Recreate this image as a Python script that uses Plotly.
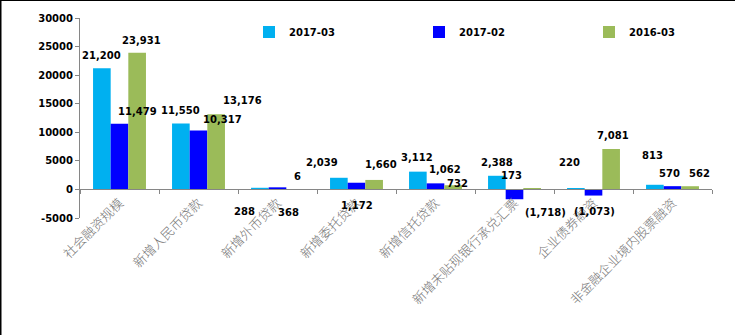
import plotly.graph_objects as go

categories = ["社会融资规模", "新增人民币贷款", "新增外币贷款", "新增委托贷款",
              "新增信托贷款", "新增未贴现银行承兑汇票", "企业债券融资", "非金融企业境内股票融资"]
series_names = ["2017-03", "2017-02", "2016-03"]
v_2017_03 = [21200, 11550, 288, 2039, 3112, 2388, 220, 813]
v_2017_02 = [11479, 10317, 368, 1172, 1062, -1718, -1073, 570]
v_2016_03 = [23931, 13176, 6, 1660, 732, 173, 7081, 562]
y_ticks = [-5000, 0, 5000, 10000, 15000, 20000, 25000, 30000]

series_values = [v_2017_03, v_2017_02, v_2016_03]
colors = ["#00B0F0", "#0000FF", "#9BBB59"]

# label placement offsets in pixels (dx right, dy up) relative to the bar end, per series per category
label_dx = [
    [0, 0, -15, -17, -1, 0, -6, -2],
    [18, 24, 11, 0, 9, 31, 1, -3],
    [4, 26, 2, 7, 4, -21, 2, 9],
]
label_dy = [
    [13, 13, -24, 15, 14, 13, 26, 29],
    [12, 11, -25, -23, 14, -13, -16, 13],
    [12, 14, 13, 15, 2, 13, 13, 13],
]

W, H = 735, 335
ML, MR, MT, MB = 80, 23, 18, 117
plot_w = W - ML - MR
plot_h = H - MT - MB
bargap = 0.33
cat_px = plot_w / len(categories)
bar_px = cat_px * (1 - bargap) / 3
y_min, y_max = y_ticks[0], y_ticks[-1]


def fmt(v):
    s = f"{abs(v):,}"
    return f"({s})" if v < 0 else s


fig = go.Figure()
for name, vals, col in zip(series_names, series_values, colors):
    fig.add_trace(go.Bar(name=name, x=categories, y=vals, marker=dict(color=col, line=dict(width=0))))

annotations = []
for si, vals in enumerate(series_values):
    for ci, v in enumerate(vals):
        annotations.append(dict(
            x=categories[ci], y=v, xref="x", yref="y", text=fmt(v), showarrow=False,
            xanchor="center", yanchor="middle",
            xshift=(si - 1) * bar_px + label_dx[si][ci], yshift=label_dy[si][ci],
            font=dict(family="DejaVu Sans", size=10, color="black", weight="bold"),
        ))

shapes = [
    dict(type="line", xref="paper", yref="paper", x0=-ML / plot_w, x1=(W - ML) / plot_w,
         y0=(H - MB) / plot_h, y1=(H - MB) / plot_h, line=dict(color="black", width=2)),
    dict(type="line", xref="paper", yref="paper", x0=-ML / plot_w, x1=-ML / plot_w,
         y0=-MB / plot_h, y1=(H - MB) / plot_h, line=dict(color="black", width=3)),
]

fig.update_layout(
    width=W, height=H,
    margin=dict(l=ML, r=MR, t=MT, b=MB, autoexpand=False),
    paper_bgcolor="white", plot_bgcolor="white",
    barmode="group", bargap=bargap, bargroupgap=0,
    showlegend=True,
    legend=dict(orientation="h", x=(249 - ML) / plot_w, y=0.93, xanchor="left", yanchor="middle",
                entrywidth=125, entrywidthmode="pixels",
                font=dict(family="DejaVu Sans", size=10, color="black", weight="bold"),
                bgcolor="rgba(0,0,0,0)"),
    xaxis=dict(
        type="category", anchor="free", position=(0 - y_min) / (y_max - y_min),
        automargin=False,
        showline=True, linecolor="#868686", linewidth=1,
        ticks="outside", tickson="boundaries", ticklen=4, tickcolor="#868686",
        tickangle=-45, showgrid=False,
        tickfont=dict(family="Noto Sans CJK SC", size=13, color="#767676", weight=300),
    ),
    yaxis=dict(
        range=[y_min, y_max], tickvals=y_ticks, ticktext=[str(t) for t in y_ticks],
        automargin=False,
        showline=True, linecolor="#868686", linewidth=1,
        ticks="outside", ticklen=4, tickcolor="#868686",
        showgrid=False, zeroline=False,
        tickfont=dict(family="DejaVu Sans", size=10, color="black", weight="bold"),
    ),
    annotations=annotations,
    shapes=shapes,
)

fig.write_html("out.html")
